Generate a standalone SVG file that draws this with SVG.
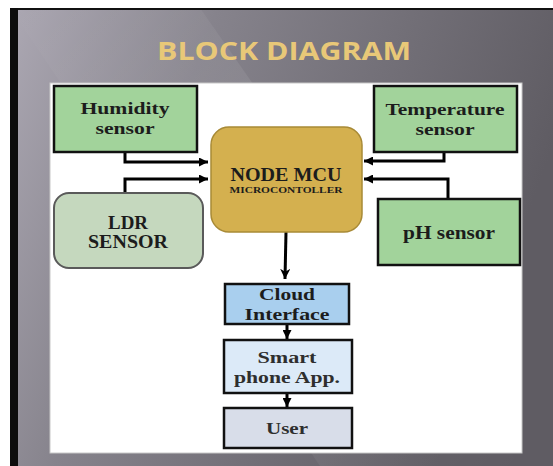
<svg xmlns="http://www.w3.org/2000/svg" width="553" height="466" viewBox="0 0 553 466">
  <defs>
    <linearGradient id="slide" x1="0" y1="0" x2="1" y2="0.3">
      <stop offset="0" stop-color="#aca8b3"/>
      <stop offset="0.35" stop-color="#86838c"/>
      <stop offset="1" stop-color="#5f5c63"/>
    </linearGradient>
    <linearGradient id="streak" x1="0" y1="0" x2="1" y2="1">
      <stop offset="0" stop-color="#ffffff" stop-opacity="0"/>
      <stop offset="0.5" stop-color="#ffffff" stop-opacity="0.12"/>
      <stop offset="1" stop-color="#ffffff" stop-opacity="0"/>
    </linearGradient>
    <marker id="ah" viewBox="0 0 10 10" refX="10" refY="5" markerWidth="3" markerHeight="3" orient="auto" markerUnits="strokeWidth">
      <path d="M0,0 L10,5 L0,10 z" fill="#000"/>
    </marker>
    <marker id="ahBig" viewBox="0 0 10 10" refX="10" refY="5" markerWidth="3.4" markerHeight="3.4" orient="auto" markerUnits="strokeWidth">
      <path d="M0,0 L10,5 L0,10 L3,5 z" fill="#000"/>
    </marker>
  </defs>
  <style>
    .lbl { font-family: "Liberation Serif", "Times New Roman", serif; font-weight: bold; fill: #1c1c1c; text-anchor: middle; }
    .dim { fill: #2e2e2e; }
    .box { stroke: #111; stroke-width: 2.5; }
    .green { fill: #a2d39b; }
    .conn { fill: none; stroke: #000; stroke-width: 3; }
  </style>

  <rect x="0" y="0" width="553" height="466" fill="#ffffff"/>
  <rect x="10" y="8" width="543" height="458" fill="url(#slide)"/>
  <polygon points="10,8 200,8 520,466 320,466" fill="url(#streak)"/>
  <rect x="10" y="8" width="543" height="2" fill="#111"/>
  <rect x="10" y="8" width="8" height="458" fill="#0d0d0d"/>

  <text x="284" y="60" font-family="'Open Sans', 'Liberation Sans', Arial, sans-serif" font-weight="bold" font-size="25" fill="#e8c878" text-anchor="middle" textLength="254" lengthAdjust="spacingAndGlyphs">BLOCK DIAGRAM</text>

  <rect x="50" y="83" width="472" height="370" fill="#ffffff" stroke="#c8c8c8" stroke-width="1"/>

  <g id="connectors">
    <path class="conn" d="M125,152 V162 H208" marker-end="url(#ah)"/>
    <path class="conn" d="M125,193 V179 H208" marker-end="url(#ah)"/>
    <path class="conn" d="M444,152 V161 H364" marker-end="url(#ah)"/>
    <path class="conn" d="M448,199 V179 H364" marker-end="url(#ah)"/>
    <path class="conn" d="M286,232 L285,279" marker-end="url(#ahBig)"/>
    <path class="conn" d="M287,325 V339" marker-end="url(#ah)"/>
    <path class="conn" d="M287,394 V407" marker-end="url(#ah)"/>
  </g>

  <g id="humidity">
    <rect class="box green" x="54" y="86" width="143" height="66"/>
    <text class="lbl" x="125" y="114" font-size="17" textLength="89" lengthAdjust="spacingAndGlyphs">Humidity</text>
    <text class="lbl" x="125" y="134" font-size="17" textLength="59" lengthAdjust="spacingAndGlyphs">sensor</text>
  </g>

  <g id="temperature">
    <rect class="box green" x="374" y="86" width="143" height="66"/>
    <text class="lbl" x="445" y="115" font-size="17" textLength="119" lengthAdjust="spacingAndGlyphs">Temperature</text>
    <text class="lbl" x="445" y="135" font-size="17" textLength="59" lengthAdjust="spacingAndGlyphs">sensor</text>
  </g>

  <g id="ldr">
    <rect x="54" y="193" width="149" height="75" rx="15" fill="#c5d8be" stroke="#5a5a5a" stroke-width="2"/>
    <text class="lbl" x="128" y="229" font-size="18" textLength="40" lengthAdjust="spacingAndGlyphs">LDR</text>
    <text class="lbl" x="128" y="248" font-size="18" textLength="80" lengthAdjust="spacingAndGlyphs">SENSOR</text>
  </g>

  <g id="ph">
    <rect class="box green" x="378" y="199" width="142" height="66"/>
    <text class="lbl" x="449" y="239" font-size="18" textLength="92" lengthAdjust="spacingAndGlyphs">pH sensor</text>
  </g>

  <g id="mcu">
    <rect x="211" y="127" width="151" height="105" rx="18" fill="#d4b04f" stroke="#a88a36" stroke-width="1.5"/>
    <text class="lbl" x="286" y="181" font-size="18" textLength="111" lengthAdjust="spacingAndGlyphs">NODE MCU</text>
    <text class="lbl" x="286" y="193" font-size="9" textLength="113" lengthAdjust="spacingAndGlyphs">MICROCONTOLLER</text>
  </g>

  <g id="cloud">
    <rect class="box" x="225" y="284" width="124" height="40" fill="#a9cfee"/>
    <text class="lbl" x="287" y="300" font-size="17" textLength="56" lengthAdjust="spacingAndGlyphs">Cloud</text>
    <text class="lbl" x="287" y="320" font-size="17" textLength="85" lengthAdjust="spacingAndGlyphs">Interface</text>
  </g>

  <g id="smartphone">
    <rect class="box" x="224" y="340" width="128" height="53" fill="#dceaf8"/>
    <text class="lbl dim" x="287" y="363" font-size="17" textLength="59" lengthAdjust="spacingAndGlyphs">Smart</text>
    <text class="lbl dim" x="287" y="383" font-size="17" textLength="106" lengthAdjust="spacingAndGlyphs">phone App.</text>
  </g>

  <g id="user">
    <rect class="box" x="224" y="408" width="128" height="40" fill="#d8dde9"/>
    <text class="lbl dim" x="287" y="434" font-size="17" textLength="42" lengthAdjust="spacingAndGlyphs">User</text>
  </g>
</svg>
